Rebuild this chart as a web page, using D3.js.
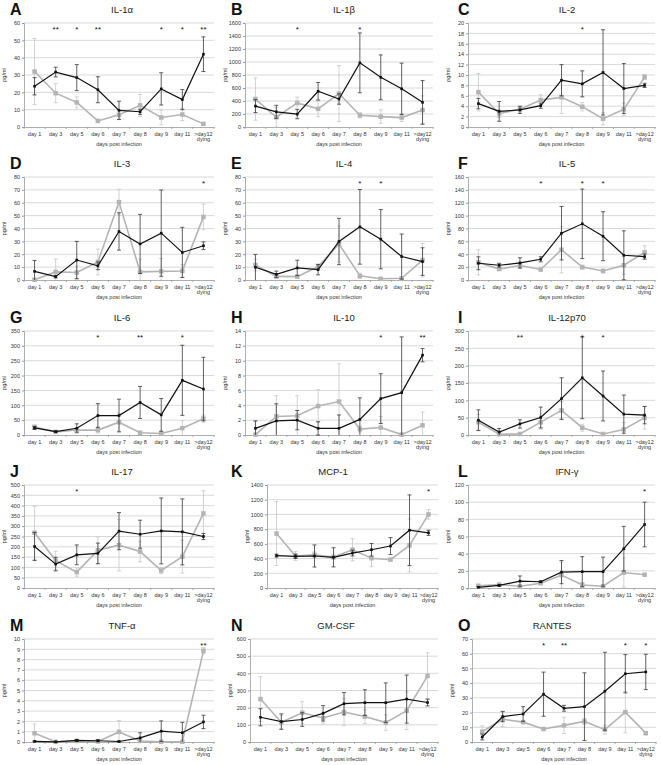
<!DOCTYPE html>
<html><head><meta charset="utf-8">
<script src="https://cdn.jsdelivr.net/npm/d3@7/dist/d3.min.js"></script>
<style>body{margin:0;background:#fff}svg{display:block}text{font-family:"Liberation Sans",Arial,sans-serif}</style>
</head><body><svg id="c" width="661" height="765"></svg>
<script>
const categories = ["day 1","day 3","day 5","day 6","day 7","day 8","day 9","day 11",">day12 dying"];
const letters = ["A","B","C","D","E","F","G","H","I","J","K","L","M","N","O"];
const titles = ["IL-1α","IL-1β","IL-2","IL-3","IL-4","IL-5","IL-6","IL-10","IL-12p70","IL-17","MCP-1","IFN-γ","TNF-α","GM-CSF","RANTES"];
const yMax = [60,1600,20,80,80,160,350,14,300,500,1400,120,10,600,70];
const yStep = [10,200,2,10,10,20,50,2,50,50,200,20,1,100,10];

const blackA = [23.5,31.7,28.5,21.5,9.6,8.8,22,15.8,42];
const blackErrA = [5,2.8,7.5,7.5,5.3,1.5,9.3,5.8,10];
const grayA = [32,19.5,14.2,3.5,7,12.5,5.5,7.2,1.8];
const grayErrA = [19,5.5,3.2,0.8,2.5,6.3,4.2,3.5,0.5];
const starsA = ["","**","*","**","","","*","*","**"];

const blackB = [322,234,197,550,431,987,764,587,379];
const blackErrB = [100,100,70,135,80,460,345,395,335];
const grayB = [430,150,370,280,515,180,160,145,260];
const grayErrB = [325,150,90,120,430,40,105,60,220];
const starsB = ["","","*","","","*","","",""];

const blackC = [4.5,3.0,3.3,4.1,9.0,8.3,10.5,7.4,8.0];
const blackErrC = [1.0,1.9,0.7,0.5,3.0,2.5,8.2,4.8,0.4];
const grayC = [6.7,2.6,3.4,5.2,5.7,3.9,1.6,3.4,9.6];
const grayErrC = [3.6,0.8,0.5,1.0,3.1,0.8,1.2,1.2,0.5];
const starsC = ["","","","","","*","","",""];

const blackD = [6.7,2.6,15.5,11,37.7,28,36.4,21.4,26.6];
const blackErrD = [8.5,1,14.5,3,14.5,23,33.5,19.5,3];
const grayD = [0.2,6.3,5.8,14,60.5,6.3,6.7,7,49];
const grayErrD = [0.5,10,5,10,10,10,10,5,10];
const starsD = ["","","","","","","","","*"];

const blackE = [9.9,4.4,9.4,8,29.9,41.3,31.7,18.2,14.3];
const blackErrE = [10,2.5,6,4,18,29,23,17.5,10.7];
const grayE = [11.7,2.8,2.6,10.5,28,3.2,1,1.3,15.4];
const grayErrE = [4.5,1,0.5,2,14,2,0.5,0.5,13];
const starsE = ["","","","","","*","*","",""];

const blackF = [26,22.9,26.5,32.2,72.7,87.3,68,38.4,36.4];
const blackErrF = [10,3,8,4,41.5,54,38,38,4];
const grayF = [27.5,17,22.5,16.3,47,20,14,23,43];
const grayErrF = [19.5,2,4,2,36,3,3,14,10];
const starsF = ["","","","*","","*","*","",""];

const blackG = [23.7,11.3,22.6,65.5,65.5,109.5,67.7,184,154.6];
const blackErrG = [5,2,15,40,55,54,55,118,107];
const grayG = [27,10.5,17,16.5,43,7.5,5,23,55];
const grayErrG = [7,2,5,10,30,5,5,25,12];
const starsG = ["","","","*","","**","","*",""];

const blackH = [0.9,1.9,2.0,0.9,0.9,2.1,4.9,5.7,10.75];
const blackErrH = [1,2.3,1.3,0.9,1.8,2.9,3.35,7.5,0.9];
const grayH = [0.05,2.5,2.6,3.9,4.5,0.8,1.0,0.05,1.3];
const grayErrH = [1.8,2.8,2.7,2.2,5.1,0.4,1.5,0.1,1.8];
const starsH = ["","","","","","","*","","**"];

const blackI = [42.7,8.7,32,50.5,105,165,112.6,60.2,57.3];
const blackErrI = [30,10,12,30,60,118,72,55,25];
const grayI = [37,2,3,37,71,21,3,16,50];
const grayErrI = [23,2,2,20,25,10,2,20,33];
const starsI = ["","","**","","","*","*","",""];

const blackJ = [201.6,116,161,168,276,261,277,272.6,250];
const blackErrJ = [68,33,48,50,90,68,160,160,15];
const grayJ = [268,133,77,183,208,177,85,152,362];
const grayErrJ = [130,45,20,65,125,50,15,80,110];
const starsJ = ["","","*","","","","","",""];

const blackK = [440,431,435,417,475,520,570,785,750];
const blackErrK = [20,30,150,130,40,85,115,480,35];
const grayK = [740,435,450,420,520,405,385,580,1000];
const grayErrK = [435,60,40,30,150,115,15,360,65];
const starsK = ["","","","","","","","","*"];

const blackL = [0.8,3,8,7.3,18.5,19,19,45.8,74];
const blackErrL = [1,1,6,1,13.5,17.5,17,26,26];
const grayL = [2.5,4,2,5.5,15,3.5,2,18,15.5];
const grayErrL = [2,1,1,1,15,3,1,17,1];
const starsL = ["","","","","","","","","*"];

const blackM = [0.06,0.02,0.15,0.12,0.05,0.4,1.05,0.9,1.95];
const blackErrM = [0.05,0.02,0.1,0.1,0.05,0.5,1.0,1.0,0.65];
const grayM = [0.85,0.02,0.1,0.05,0.98,0.1,0.02,0.02,8.85];
const grayErrM = [0.9,0.02,0.05,0.05,1.1,0.05,0.02,0.02,0.3];
const starsM = ["","","","","","","","","**"];

const blackN = [144,119,131,167,223,229,229,250,230];
const blackErrN = [50,45,40,45,65,75,115,140,20];
const grayN = [250,115,170,140,175,148,113,182,385];
const grayErrN = [130,40,65,35,80,40,45,110,135];
const starsN = ["","","","","","","","",""];

const blackO = [3.4,17.3,19,32.5,22.9,24,34.5,46.4,47.6];
const blackErrO = [2,3.5,5,15,2,23,26.5,13,12];
const grayO = [7,15.5,13.5,8.8,11.3,14,8.4,20.3,6];
const grayErrO = [4,5,1,1,5.5,2,3,14,1];
const starsO = ["","","","*","**","","","*","*"];

const blacks = [blackA,blackB,blackC,blackD,blackE,blackF,blackG,blackH,blackI,blackJ,blackK,blackL,blackM,blackN,blackO];
const blackErrs = [blackErrA,blackErrB,blackErrC,blackErrD,blackErrE,blackErrF,blackErrG,blackErrH,blackErrI,blackErrJ,blackErrK,blackErrL,blackErrM,blackErrN,blackErrO];
const grays = [grayA,grayB,grayC,grayD,grayE,grayF,grayG,grayH,grayI,grayJ,grayK,grayL,grayM,grayN,grayO];
const grayErrs = [grayErrA,grayErrB,grayErrC,grayErrD,grayErrE,grayErrF,grayErrG,grayErrH,grayErrI,grayErrJ,grayErrK,grayErrL,grayErrM,grayErrN,grayErrO];
const stars = [starsA,starsB,starsC,starsD,starsE,starsF,starsG,starsH,starsI,starsJ,starsK,starsL,starsM,starsN,starsO];

// layout
const rowsY = [[23,127],[177,280],[331,435],[485,588],[639,742]];
const colsX = [[24,214],[245,433],[468,655]];
const plotXOverride = {10:[267,438], 13:[250,438], 14:[472,656]};
const titleX = [122,344,567];
const titleXOverride = {10:333, 13:336, 14:552};
const letterX = [10,231,458];

const svg = d3.select("#c");

letters.forEach((L,i)=>{
  const r = Math.floor(i/3), c = i%3;
  const [top,bottom] = rowsY[r];
  const [left,right] = plotXOverride[i] || colsX[c];
  const g = svg.append("g");
  const x = d3.scaleBand().domain(categories).range([left,right]);
  const cx = d => x(d) + x.bandwidth()/2;
  const y = d3.scaleLinear().domain([0,yMax[i]]).range([bottom,top]);
  const ticks = d3.range(0, yMax[i] + yStep[i]/2, yStep[i]);

  // gridlines
  g.selectAll(".grid").data(ticks.slice(1)).join("line")
    .attr("x1",left).attr("x2",right)
    .attr("y1",d=>y(d)).attr("y2",d=>y(d))
    .attr("stroke","#cfcfcf").attr("stroke-width",0.8);

  // y axis
  const ya = g.append("g").attr("transform",`translate(${left},0)`)
    .call(d3.axisLeft(y).tickValues(ticks).tickSize(2).tickPadding(2).tickFormat(d3.format("d")));
  ya.select(".domain").attr("stroke","#999").attr("stroke-width",0.8);
  ya.selectAll(".tick line").attr("stroke","#999");
  ya.selectAll("text").attr("font-size",5.5).attr("fill","#333").style("font-family","'Liberation Sans',Arial,sans-serif");

  // x axis
  const xa = g.append("g").attr("transform",`translate(0,${bottom})`)
    .call(d3.axisBottom(x).tickSize(0).tickPadding(5));
  xa.select(".domain").attr("stroke","#999").attr("stroke-width",0.8);
  xa.selectAll(".tick text").each(function(d){
    const t = d3.select(this).text("").attr("font-size",5.5).attr("fill","#333")
      .style("font-family","'Liberation Sans',Arial,sans-serif");
    const parts = d.startsWith(">") ? d.split(" ") : [d];
    parts.forEach((p,k)=> t.append("tspan").attr("x",0).attr("dy", k===0 ? "0.71em" : "1.0em").text(p));
  });
  // tick marks between categories
  g.selectAll(".xt").data(d3.range(categories.length+1)).join("line")
    .attr("x1",k=>left + k*x.step()).attr("x2",k=>left + k*x.step())
    .attr("y1",bottom).attr("y2",bottom+2)
    .attr("stroke","#999").attr("stroke-width",0.8);

  // axis titles
  g.append("text").attr("x",(left+right)/2).attr("y",bottom+19).attr("text-anchor","middle")
    .attr("font-size",5.5).attr("fill","#333").text("days post infection");
  g.append("text").attr("transform",`translate(${left-18},${(top+bottom)/2}) rotate(-90)`)
    .attr("text-anchor","middle").attr("font-size",5.5).attr("fill","#333").text("pg/ml");

  // panel title and letter
  g.append("text").attr("x", titleXOverride[i] ?? titleX[c]).attr("y", top-10)
    .attr("text-anchor","middle").attr("font-size",9.5).attr("fill","#222").text(titles[i]);
  g.append("text").attr("x", letterX[c]).attr("y", top-8)
    .attr("font-size",16).attr("font-weight","bold").attr("fill","#111").text(L);

  const clampY = v => y(Math.max(0, Math.min(yMax[i], v)));
  const drawSeries = (vals, errs, lineColor, barColor, lw, ms) => {
    const pts = categories.map((cat,k)=>({cat, v:vals[k], e:errs[k]}));
    const eb = g.append("g");
    pts.forEach(p=>{
      const px = cx(p.cat);
      const y1 = clampY(p.v + p.e), y0 = clampY(p.v - p.e);
      eb.append("line").attr("x1",px).attr("x2",px).attr("y1",y1).attr("y2",y0)
        .attr("stroke",barColor).attr("stroke-width",0.8);
      if (p.v + p.e <= yMax[i]) eb.append("line").attr("x1",px-2).attr("x2",px+2).attr("y1",y1).attr("y2",y1)
        .attr("stroke",barColor).attr("stroke-width",0.8);
      if (p.v - p.e >= 0) eb.append("line").attr("x1",px-2).attr("x2",px+2).attr("y1",y0).attr("y2",y0)
        .attr("stroke",barColor).attr("stroke-width",0.8);
    });
    g.append("path").datum(pts)
      .attr("d", d3.line().x(p=>cx(p.cat)).y(p=>y(p.v)))
      .attr("fill","none").attr("stroke",lineColor).attr("stroke-width",lw);
    g.selectAll(null).data(pts).join("rect")
      .attr("x",p=>cx(p.cat)-ms/2).attr("y",p=>y(p.v)-ms/2)
      .attr("width",ms).attr("height",ms).attr("fill",lineColor);
  };
  drawSeries(grays[i], grayErrs[i], "#b4b4b4", "#c6c6c6", 1.6, 4.5);
  drawSeries(blacks[i], blackErrs[i], "#111", "#3a3a3a", 1.2, 2.6);

  // significance stars
  g.selectAll(null).data(categories.map((cat,k)=>({cat,s:stars[i][k]})).filter(d=>d.s)).join("text")
    .attr("x",d=>cx(d.cat)).attr("y",top+9).attr("text-anchor","middle")
    .attr("font-size",8).attr("fill","#111").text(d=>d.s);
});
</script>
</body></html>
